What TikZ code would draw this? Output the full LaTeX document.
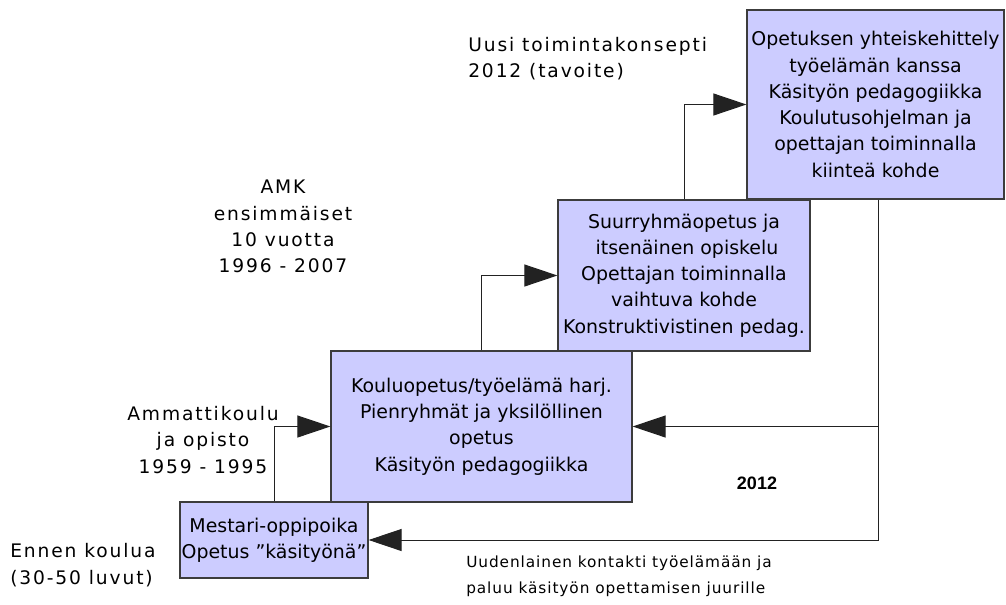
\documentclass[tikz,border=0pt]{standalone}
\usepackage{fontspec}
\setmainfont{DejaVu Sans}
\newfontfamily\lblfont[LetterSpace=10]{DejaVu Sans}
\newfontfamily\notefont[LetterSpace=6]{DejaVu Sans}
\newfontfamily\yearfont{Liberation Sans}
\usetikzlibrary{arrows.meta}
\definecolor{boxfill}{HTML}{CCCCFF}
\definecolor{boxline}{HTML}{3C3C3C}
\definecolor{linkline}{HTML}{222222}
\begin{document}
\begin{tikzpicture}[x=0.75pt,y=-0.75pt,
  stage/.style={draw=boxline, line width=0.9pt, fill=boxfill, inner sep=0pt,
    align=center, font=\fontsize{14.2}{19.7}\selectfont},
  link/.style={draw=linkline, line width=0.75pt,
    -{Triangle[length=24.75pt,width=16.5pt]}},
  lbl/.style={inner sep=0pt, font=\lblfont\fontsize{14}{19.7}\selectfont},
  note/.style={inner sep=0pt, font=\notefont\fontsize{11.5}{19.7}\selectfont}]
\useasboundingbox (0,0) rectangle (1006,604);

% stages, oldest at the bottom left
\node[stage, minimum width=141pt, minimum height=57pt] (b1) at (274,540)
  {Mestari-oppipoika\\Opetus ”käsityönä”};
\node[stage, minimum width=225.75pt, minimum height=113.25pt] (b2) at (481.5,426.5)
  {Kouluopetus/työelämä harj.\\Pienryhmät ja yksilöllinen\\opetus\\Käsityön pedagogiikka};
\node[stage, minimum width=189pt, minimum height=113.25pt] (b3) at (684,275.5)
  {Suurryhmäopetus ja\\\ itsenäinen opiskelu\\Opettajan toiminnalla\\vaihtuva kohde\\Konstruktivistinen pedag.};
\node[stage, minimum width=192.75pt, minimum height=141.75pt] (b4) at (875.5,104.5)
  {Opetuksen yhteiskehittely\\työelämän kanssa\\Käsityön pedagogiikka\\Koulutusohjelman ja\\opettajan toiminnalla\\kiinteä kohde};

% steps upward
\draw[link] (b1.north) |- (b2.west);
\draw[link] (b2.north) |- (b3.west);
\draw[link] (b3.north) |- (b4.west);

% feedback from the 2012 concept
\coordinate (fb) at ([xshift=2.6pt]b4.south);
\draw[link] (fb) |- (b1.east);
\draw[link] (fb |- b2.east) -- (b2.east);

% period labels
\node[lbl, align=left, anchor=west] (uusi) at (468,58.5)
  {Uusi toimintakonsepti\\2012 (tavoite)};
\node[lbl, align=center] (amk) at (283,226.5)
  {AMK\\ensimmäiset\\10 vuotta\\1996 - 2007};
\node[lbl, align=center] (amko) at (203,440)
  {Ammattikoulu\\ja opisto\\1959 - 1995};
\node[lbl, align=left, anchor=west] (ennen) at (10,565)
  {Ennen koulua\\(30-50 luvut)};
\node[inner sep=0pt, font=\yearfont\bfseries\fontsize{13.5}{16}\selectfont] (year) at (757,483) {2012};
\node[note, align=left, anchor=west] (uud) at (466,576.5)
  {Uudenlainen kontakti työelämään ja\\paluu käsityön opettamisen juurille};
\end{tikzpicture}
\end{document}
